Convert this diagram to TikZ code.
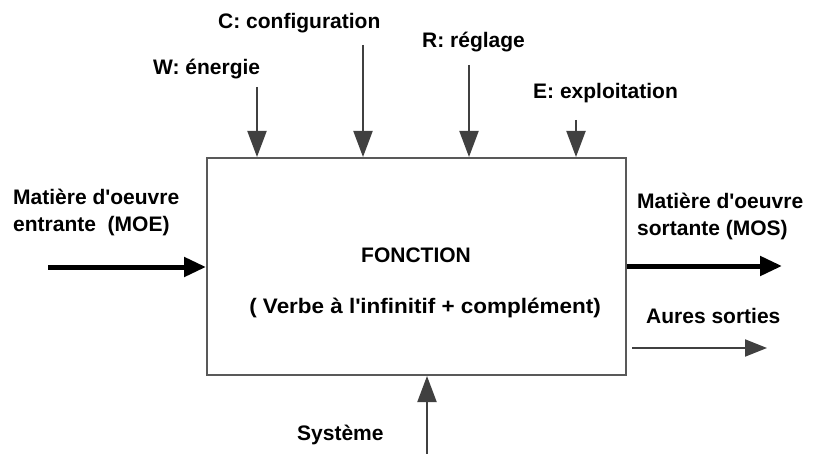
\documentclass[tikz,border=0pt]{standalone}
\usepackage{fontspec}
\setmainfont{Liberation Sans}
\usetikzlibrary{arrows.meta}
\newcommand{\apo}{\textquotesingle}
\begin{document}
\begin{tikzpicture}[x=1pt,y=-1pt,
  lbl/.style={font=\fontsize{21}{25}\selectfont\bfseries, inner sep=0pt, text=black},
  thin/.style={draw=black!75, line width=2pt, -{Triangle[length=26pt,width=19pt]}},
  thick/.style={draw=black, line width=5pt, -{Triangle[length=22pt,width=19pt]}},
  small/.style={draw=black!75, line width=2pt, -{Triangle[length=22pt,width=17pt]}}]
\useasboundingbox (0,0) rectangle (834,454);
\node[draw=black!65, line width=2pt, minimum width=419pt, minimum height=217pt, inner sep=0pt] (box) at (416.5,266.5) {};
% top labels
\node[lbl, anchor=base west] (lc) at (218,29) {C: configuration};
\node[lbl, anchor=base west] (lw) at (153,75) {W: énergie};
\node[lbl, anchor=base west] (lr) at (422,48) {R: réglage};
\node[lbl, anchor=base west] (le) at (533,99) {E: exploitation};
% top arrows
\coordinate (w0) at (257,87);
\coordinate (c0) at (363,45);
\coordinate (r0) at (469,65);
\coordinate (e0) at (576,120);
\draw[thin] (w0) -- (w0 |- box.north);
\draw[thin] (c0) -- (c0 |- box.north);
\draw[thin] (r0) -- (r0 |- box.north);
\draw[thin] (e0) -- (e0 |- box.north);
% left
\node[lbl, anchor=base west] (moe1) at (13,205) {Matière d\apo oeuvre};
\node[lbl, anchor=base west] (moe2) at (13,232) {entrante\ \ (MOE)};
\coordinate (in0) at (48,267);
\draw[thick] (in0) -- (in0 -| box.west);
% right
\node[lbl, anchor=base west] (mos1) at (637,209) {Matière d\apo oeuvre};
\node[lbl, anchor=base west] (mos2) at (637,236) {sortante (MOS)};
\coordinate (out1) at (782,266);
\draw[thick] (out1 -| box.east) -- (out1);
\node[lbl, anchor=base west] (aut) at (646,323) {Aures sorties};
\coordinate (a0) at (632,348);
\coordinate (a1) at (767,348);
\draw[small] (a0) -- (a1);
% bottom
\node[lbl, anchor=base west] (sys) at (297,440) {Système};
\coordinate (s0) at (427,454);
\draw[thin] (s0) -- (s0 |- box.south);
% center
\node[lbl, anchor=base] (fn) at (416,262) {FONCTION};
\node[lbl, anchor=base] (vb) at (425,313) {\addfontfeatures{FakeStretch=1.07}( Verbe à l\apo infinitif + complément)};
\end{tikzpicture}
\end{document}
